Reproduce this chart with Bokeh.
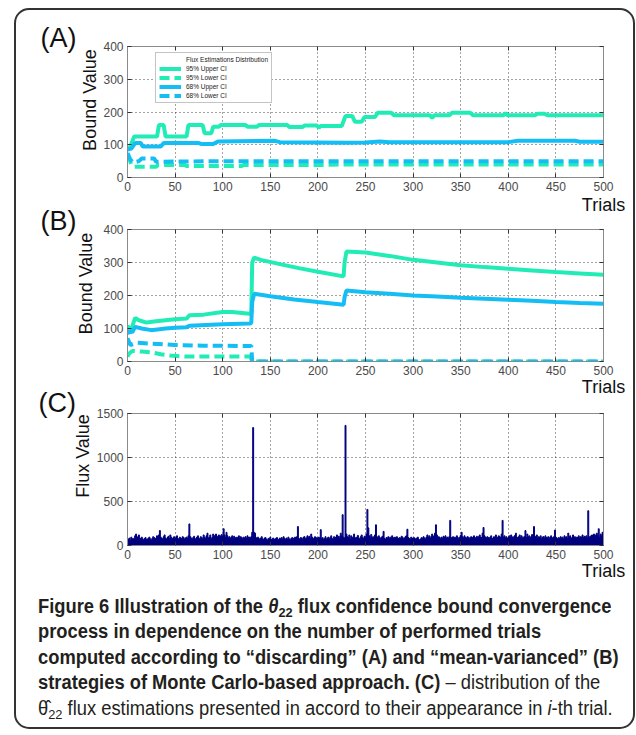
import math
from bokeh.plotting import figure
from bokeh.models import (Range1d, Label, Legend, LegendItem, LinearAxis, FixedTicker,
                          Div, CustomJSTickFormatter)
from bokeh.layouts import column
from bokeh.embed import file_html
from bokeh.resources import INLINE

# ---------------- data ----------------
trial_ticks = [0, 50, 100, 150, 200, 250, 300, 350, 400, 450, 500]
bound_ticks = [0, 100, 200, 300, 400]
flux_ticks = [0, 500, 1000, 1500]

# Panel A ("discarding")
a_up95_t = [0, 3, 7, 31, 33, 38, 40, 62, 64, 79, 81, 88, 90, 96, 98, 124, 126, 136, 138, 168, 170, 184,
            186, 199, 201, 203, 225, 229, 236, 239, 246, 249, 260, 263, 277, 280, 318, 320, 322, 338,
            341, 360, 363, 395, 397, 399, 428, 431, 438, 441, 500]
a_up95_v = [85, 95, 125, 125, 160, 160, 125, 125, 160, 160, 135, 135, 155, 155, 160, 160, 155, 155, 160,
            160, 154, 154, 159, 159, 152, 157, 157, 188, 188, 170, 170, 185, 185, 198, 198, 190, 190, 181,
            190, 190, 198, 198, 190, 190, 197, 190, 190, 195, 195, 190, 190]
a_up68_t = [0, 4, 8, 14, 16, 35, 38, 75, 78, 90, 95, 155, 160, 230, 250, 265, 275, 400, 410, 470, 475, 500]
a_up68_v = [85, 88, 105, 105, 95, 95, 105, 105, 102, 102, 110, 112, 108, 106, 107, 110, 108, 108, 112,
            112, 109, 109]
a_lo95_t = [0, 4, 6, 30, 32, 60, 62, 120, 122, 200, 230, 500]
a_lo95_v = [70, 40, 33, 33, 38, 38, 35, 35, 38, 38, 40, 40]
a_lo68_t = [0, 3, 6, 12, 15, 28, 30, 100, 200, 500]
a_lo68_v = [75, 55, 45, 50, 58, 58, 48, 50, 50, 50]

# Panel B ("mean-varianced")
b_up95_t = [0, 3, 8, 12, 20, 30, 40, 50, 62, 65, 80, 100, 110, 128, 130, 131, 133, 140, 160, 180, 200,
            227, 228, 230, 250, 275, 300, 325, 350, 375, 400, 425, 450, 475, 500]
b_up95_v = [110, 90, 132, 125, 118, 122, 125, 128, 130, 140, 142, 150, 150, 145, 145, 300, 315, 308, 295,
            283, 272, 258, 300, 333, 330, 320, 308, 300, 292, 286, 281, 276, 271, 267, 263]
b_up68_t = [0, 3, 5, 8, 15, 25, 40, 50, 62, 65, 100, 128, 130, 131, 133, 150, 175, 200, 227, 228, 230,
            250, 275, 300, 325, 350, 375, 400, 425, 450, 475, 500]
b_up68_v = [85, 92, 88, 105, 100, 95, 100, 102, 104, 108, 113, 115, 116, 180, 205, 198, 188, 180, 172,
            195, 215, 210, 205, 200, 197, 193, 190, 187, 184, 180, 177, 175]
b_lo95_t = [0, 2, 5, 15, 25, 35, 45, 60, 100, 129, 131, 500]
b_lo95_v = [15, 25, 32, 30, 28, 22, 18, 15, 15, 15, 0, 0]
b_lo68_t = [0, 3, 10, 25, 50, 80, 130, 131, 500]
b_lo68_v = [70, 50, 57, 54, 50, 48, 47, 0, 0]

# Panel C: flux estimation in each trial (trial 1..500)
flux_vals = [
    70, 85, 60, 95, 75, 80, 65, 110, 130, 90, 100, 120, 85, 70, 95, 75, 60, 80, 90, 65,
    70, 85, 95, 75, 60, 80, 100, 90, 70, 85, 110, 90, 120, 170, 95, 80, 75, 100, 120, 85,
    70, 90, 105, 80, 120, 95, 75, 85, 100, 70, 90, 110, 80, 65, 95, 85, 75, 100, 90, 70,
    85, 95, 80, 110, 245, 100, 85, 70, 90, 105, 80, 65, 95, 110, 85, 70, 100, 90, 75, 120,
    95, 80, 110, 140, 85, 95, 120, 75, 90, 130, 100, 115, 130, 85, 105, 120, 95, 110, 125, 100,
    190, 120, 95, 150, 110, 85, 100, 75, 95, 110, 80, 105, 90, 70, 95, 85, 110, 80, 100, 90,
    75, 95, 85, 100, 80, 110, 90, 95, 85, 100, 150, 1340, 150, 140, 90, 75, 95, 80, 70, 85,
    100, 75, 65, 85, 90, 70, 60, 80, 75, 95, 65, 70, 85, 60, 75, 80, 90, 70, 65, 85,
    75, 90, 70, 100, 80, 65, 85, 70, 95, 75, 60, 80, 90, 70, 85, 95, 75, 100, 215, 80,
    70, 90, 85, 65, 95, 100, 75, 85, 110, 90, 105, 80, 130, 95, 75, 85, 100, 70, 90, 80,
    95, 85, 180, 75, 90, 65, 80, 100, 70, 85, 95, 75, 90, 110, 80, 70, 100, 85, 95, 120,
    90, 105, 80, 140, 110, 350, 95, 85, 1365, 130, 100, 90, 120, 75, 110, 95, 85, 130, 90, 80,
    95, 115, 85, 70, 100, 120, 90, 80, 105, 95, 130, 410, 200, 110, 95, 125, 85, 100, 90, 120,
    235, 100, 85, 110, 90, 75, 95, 105, 160, 80, 70, 90, 85, 100, 75, 95, 85, 110, 90, 80,
    95, 75, 100, 85, 70, 90, 80, 105, 95, 75, 85, 100, 110, 185, 90, 80, 70, 95, 85, 75,
    90, 80, 65, 85, 95, 70, 60, 75, 90, 80, 100, 85, 70, 95, 120, 90, 110, 80, 100, 130,
    95, 110, 140, 235, 120, 85, 100, 90, 75, 95, 80, 105, 90, 110, 85, 95, 80, 100, 285, 90,
    85, 100, 75, 95, 80, 110, 90, 70, 95, 115, 150, 100, 85, 110, 90, 80, 100, 95, 75, 90,
    100, 85, 95, 110, 80, 90, 105, 85, 100, 120, 95, 90, 140, 205, 110, 95, 85, 100, 90, 80,
    95, 110, 85, 75, 100, 90, 120, 85, 95, 110, 100, 90, 130, 285, 95, 110, 85, 100, 80, 90,
    110, 95, 120, 85, 100, 90, 115, 140, 95, 85, 100, 120, 90, 110, 85, 95, 100, 170, 90, 130,
    95, 110, 85, 100, 125, 90, 215, 105, 95, 120, 85, 100, 90, 110, 80, 95, 100, 85, 110, 90,
    85, 100, 75, 95, 110, 90, 80, 100, 175, 95, 85, 70, 90, 80, 100, 85, 95, 75, 110, 90,
    100, 85, 140, 95, 110, 80, 90, 120, 85, 100, 75, 95, 90, 110, 85, 100, 95, 120, 90, 105,
    95, 110, 85, 395, 100, 90, 110, 120, 95, 130, 100, 120, 140, 110, 190, 95, 130, 110, 150, 100,
]
flux_trials = list(range(1, len(flux_vals) + 1))

legend_labels = ["Flux Estimations Distribution", "95% Upper CI", "95% Lower CI",
                 "68% Upper CI", "68% Lower CI"]
panel_tags = ["(A)", "(B)", "(C)"]
x_title = "Trials"
y_titles = ["Bound Value", "Bound Value", "Flux Value"]

caption_lines = [
    '<b>Figure 6 Illustration of the <i>&theta;</i><sub>22</sub> flux confidence bound convergence</b>',
    '<b>process in dependence on the number of performed trials</b>',
    '<b>computed according to &ldquo;discarding&rdquo; (A) and &ldquo;mean-varianced&rdquo; (B)</b>',
    '<b>strategies of Monte Carlo-based approach. (C)</b> &ndash; distribution of the',
    '&theta;&#770;<sub>22</sub> flux estimations presented in accord to their appearance in <i>i</i>-th trial.',
]

# ---------------- style ----------------
C_AQUA = "#22ecb6"
C_BLUE = "#14bdf3"
C_NAVY = "#00007f"
FRAME = "#8a8a8a"
FONT = "Liberation Sans"
LW = 4
DASH = "10 5"
FIG_W = 617


def make_panel(height, top, bottom, ymax, yticks, xlabel_standoff, shift_up=0):
    extra = {}
    if shift_up:
        extra["styles"] = {"margin-top": f"-{shift_up}px"}
    p = figure(width=FIG_W, height=height, x_range=Range1d(0, 500), y_range=Range1d(0, ymax),
               output_backend="svg", toolbar_location=None,
               min_border_left=111, min_border_right=30, min_border_top=top, min_border_bottom=bottom,
               background_fill_color="white", border_fill_alpha=0,
               outline_line_color=FRAME, outline_line_width=1, **extra)
    xax = p.below[0]
    yax = p.left[0]
    xax.ticker = FixedTicker(ticks=trial_ticks)
    yax.ticker = FixedTicker(ticks=yticks)
    topax = LinearAxis(ticker=FixedTicker(ticks=trial_ticks),
                       formatter=CustomJSTickFormatter(code="return ''"))
    rightax = LinearAxis(ticker=FixedTicker(ticks=yticks),
                         formatter=CustomJSTickFormatter(code="return ''"))
    p.add_layout(topax, "above")
    p.add_layout(rightax, "right")
    for ax in [xax, yax, topax, rightax]:
        ax.major_tick_in = 4
        ax.major_tick_out = 0
        ax.minor_tick_in = 0
        ax.minor_tick_out = 0
        ax.axis_line_color = FRAME
        ax.major_tick_line_color = "#333333"
        ax.major_label_text_color = "#4a4a4a"
        ax.major_label_text_font = FONT
        ax.major_label_text_font_size = "12px"
        ax.major_label_standoff = 4
        ax.axis_label_text_font = FONT
        ax.axis_label_text_font_size = "18px"
        ax.axis_label_text_font_style = "normal"
        ax.axis_label_text_color = "#111111"
    topax.major_label_text_font_size = "1px"
    rightax.major_label_text_font_size = "1px"
    xax.axis_label = x_title
    xax.axis_label_standoff = xlabel_standoff
    try:
        xax.axis_label_align = "end"
    except AttributeError:
        pass
    p.grid.grid_line_color = "#1a1a1a"
    p.grid.grid_line_alpha = 0.8
    p.grid.grid_line_dash = "1 3"
    p.grid.grid_line_width = 1
    return p


def add_side_text(p, text, x_canvas, y_screen, size, align="left", angle=0.0):
    p.add_layout(Label(x=x_canvas, y=y_screen, x_units="canvas", y_units="screen", text=text,
                       text_font=FONT, text_font_size=size, text_color="#111111",
                       text_align=align, text_baseline="middle", angle=angle), "left")


# ---------------- panel A ----------------
pA = make_panel(208, 36, 41, 400, bound_ticks, 1)
rA_flux = pA.vbar(x=[], top=[], width=1, fill_color="#0000ff", line_color="#6f6f6f")
rA1 = pA.line(a_up95_t, a_up95_v, line_color=C_AQUA, line_width=LW)
rA2 = pA.line(a_lo95_t, a_lo95_v, line_color=C_AQUA, line_width=LW, line_dash=DASH)
rA3 = pA.line(a_up68_t, a_up68_v, line_color=C_BLUE, line_width=LW)
rA4 = pA.line(a_lo68_t, a_lo68_v, line_color=C_BLUE, line_width=LW, line_dash=DASH)
legend = Legend(items=[LegendItem(label=legend_labels[0], renderers=[rA_flux]),
                       LegendItem(label=legend_labels[1], renderers=[rA1]),
                       LegendItem(label=legend_labels[2], renderers=[rA2]),
                       LegendItem(label=legend_labels[3], renderers=[rA3]),
                       LegendItem(label=legend_labels[4], renderers=[rA4])],
                location=(28, 74), label_text_font=FONT, label_text_font_size="6.5px",
                label_text_color="#222222", label_height=7, glyph_height=7, glyph_width=22,
                spacing=2, padding=3, margin=0, label_standoff=5,
                border_line_color="#8a8a8a", background_fill_color="white", background_fill_alpha=1)
pA.add_layout(legend)
add_side_text(pA, y_titles[0], 73.5, 77.5, "18px", "center", math.pi / 2)
add_side_text(pA, panel_tags[0], 24, 140, "27px")

# ---------------- panel B ----------------
pB = make_panel(193, 23, 38, 400, bound_ticks, -1, shift_up=12)
pB.line(b_up95_t, b_up95_v, line_color=C_AQUA, line_width=LW)
pB.line(b_lo95_t, b_lo95_v, line_color=C_AQUA, line_width=LW, line_dash=DASH)
pB.line(b_up68_t, b_up68_v, line_color=C_BLUE, line_width=LW)
pB.line(b_lo68_t, b_lo68_v, line_color=C_BLUE, line_width=LW, line_dash=DASH)
add_side_text(pB, y_titles[1], 69, 78, "18px", "center", math.pi / 2)
add_side_text(pB, panel_tags[1], 24, 141, "27px")

# ---------------- panel C ----------------
pC = make_panel(196, 26, 38, 1500, flux_ticks, -1, shift_up=12)
pC.vbar(x=flux_trials, top=flux_vals, width=1.0, fill_color=C_NAVY, line_color=C_NAVY, line_width=1.0)
add_side_text(pC, y_titles[2], 66.5, 89.5, "18px", "center", math.pi / 2)
add_side_text(pC, panel_tags[2], 22, 142.5, "27px")

# ---------------- caption ----------------
sub_style = '<sub style="font-size:0.7em;vertical-align:-0.3em;line-height:0">'
cap_html = ('<div style="padding:11px 0 0 22px;">'
            '<div style="font-family:\'Liberation Sans\',sans-serif;font-size:19.5px;line-height:25.4px;'
            'color:#231f20;white-space:nowrap;transform:scaleX(0.94);transform-origin:0 0;">'
            + '<br>'.join(caption_lines).replace('<sub>', sub_style)
            + '</div></div>')
cap = Div(text=cap_html, width=FIG_W, height=144, margin=(0, 0, 0, 0))

layout = column(pA, pB, pC, cap,
                styles={"position": "absolute", "left": "14px", "top": "8px",
                        "border": "2px solid #333333", "border-radius": "15px",
                        "background-color": "white"})

open("out.html", "w").write(file_html(layout, INLINE))
